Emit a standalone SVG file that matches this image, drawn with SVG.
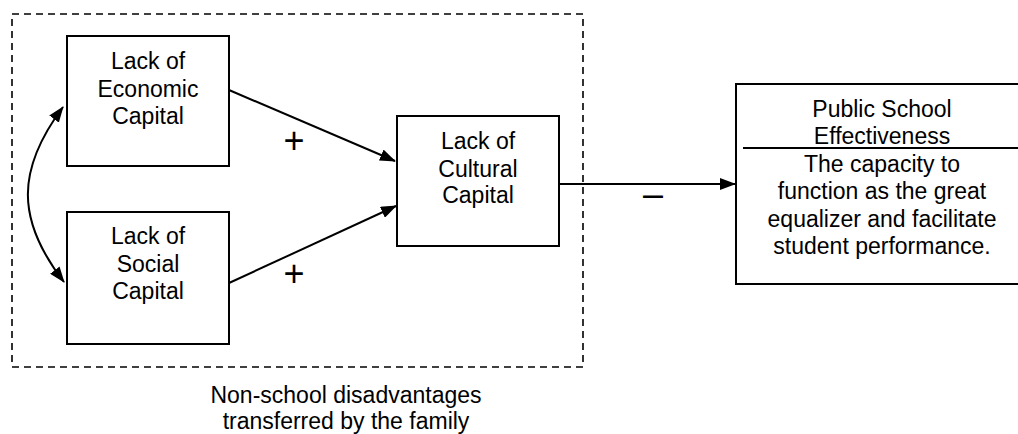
<svg xmlns="http://www.w3.org/2000/svg" width="1018" height="434" viewBox="0 0 1018 434">
<defs>
<style>
.box{fill:#fff;stroke:#000;stroke-width:2}
.t{font-family:"Liberation Sans",Arial,sans-serif;font-size:23px;fill:#000;text-anchor:middle}
.sign{font-family:"Liberation Sans",Arial,sans-serif;font-size:36px;fill:#000;text-anchor:middle}
.edge{fill:none;stroke:#000;stroke-width:2}
</style>
<marker id="arr" viewBox="0 0 16 12" refX="15" refY="6" markerWidth="16" markerHeight="12" markerUnits="userSpaceOnUse" orient="auto-start-reverse">
<path d="M0,0 L16,6 L0,12 z" fill="#000"/>
</marker>
</defs>
<rect width="1018" height="434" fill="#fff"/>
<g id="family-group">
<rect x="12" y="14" width="571" height="353" fill="none" stroke="#000" stroke-width="1.6" stroke-dasharray="7,5"/>
<text class="t" x="346" y="403">Non-school disadvantages</text>
<text class="t" x="346" y="429">transferred by the family</text>
</g>
<g id="economic">
<rect class="box" x="67" y="36" width="162" height="130"/>
<text class="t" x="148" y="69">Lack of</text>
<text class="t" x="148" y="97">Economic</text>
<text class="t" x="148" y="124">Capital</text>
</g>
<g id="social">
<rect class="box" x="67" y="212" width="162" height="132"/>
<text class="t" x="148" y="244">Lack of</text>
<text class="t" x="148" y="272">Social</text>
<text class="t" x="148" y="299">Capital</text>
</g>
<g id="cultural">
<rect class="box" x="397" y="116" width="162" height="130"/>
<text class="t" x="478" y="149">Lack of</text>
<text class="t" x="478" y="177">Cultural</text>
<text class="t" x="478" y="203">Capital</text>
</g>
<g id="effectiveness">
<rect class="box" x="736" y="84" width="300" height="200"/>
<line x1="743" y1="148" x2="1036" y2="148" stroke="#000" stroke-width="2"/>
<text class="t" x="882" y="117">Public School</text>
<text class="t" x="882" y="144">Effectiveness</text>
<text class="t" x="882" y="172">The capacity to</text>
<text class="t" x="882" y="199">function as the great</text>
<text class="t" x="882" y="227">equalizer and facilitate</text>
<text class="t" x="882" y="254">student performance.</text>
</g>
<g id="connectors">
<path class="edge" d="M63,107 C16,170 16,220 64,282" marker-start="url(#arr)" marker-end="url(#arr)"/>
<line class="edge" x1="229" y1="90" x2="395" y2="161" marker-end="url(#arr)"/>
<line class="edge" x1="229" y1="283" x2="396" y2="206" marker-end="url(#arr)"/>
<line class="edge" x1="559" y1="184" x2="735" y2="184" marker-end="url(#arr)"/>
<text class="sign" x="294" y="153">+</text>
<text class="sign" x="294" y="286">+</text>
<text class="sign" x="653" y="206">–</text>
</g>
</svg>
